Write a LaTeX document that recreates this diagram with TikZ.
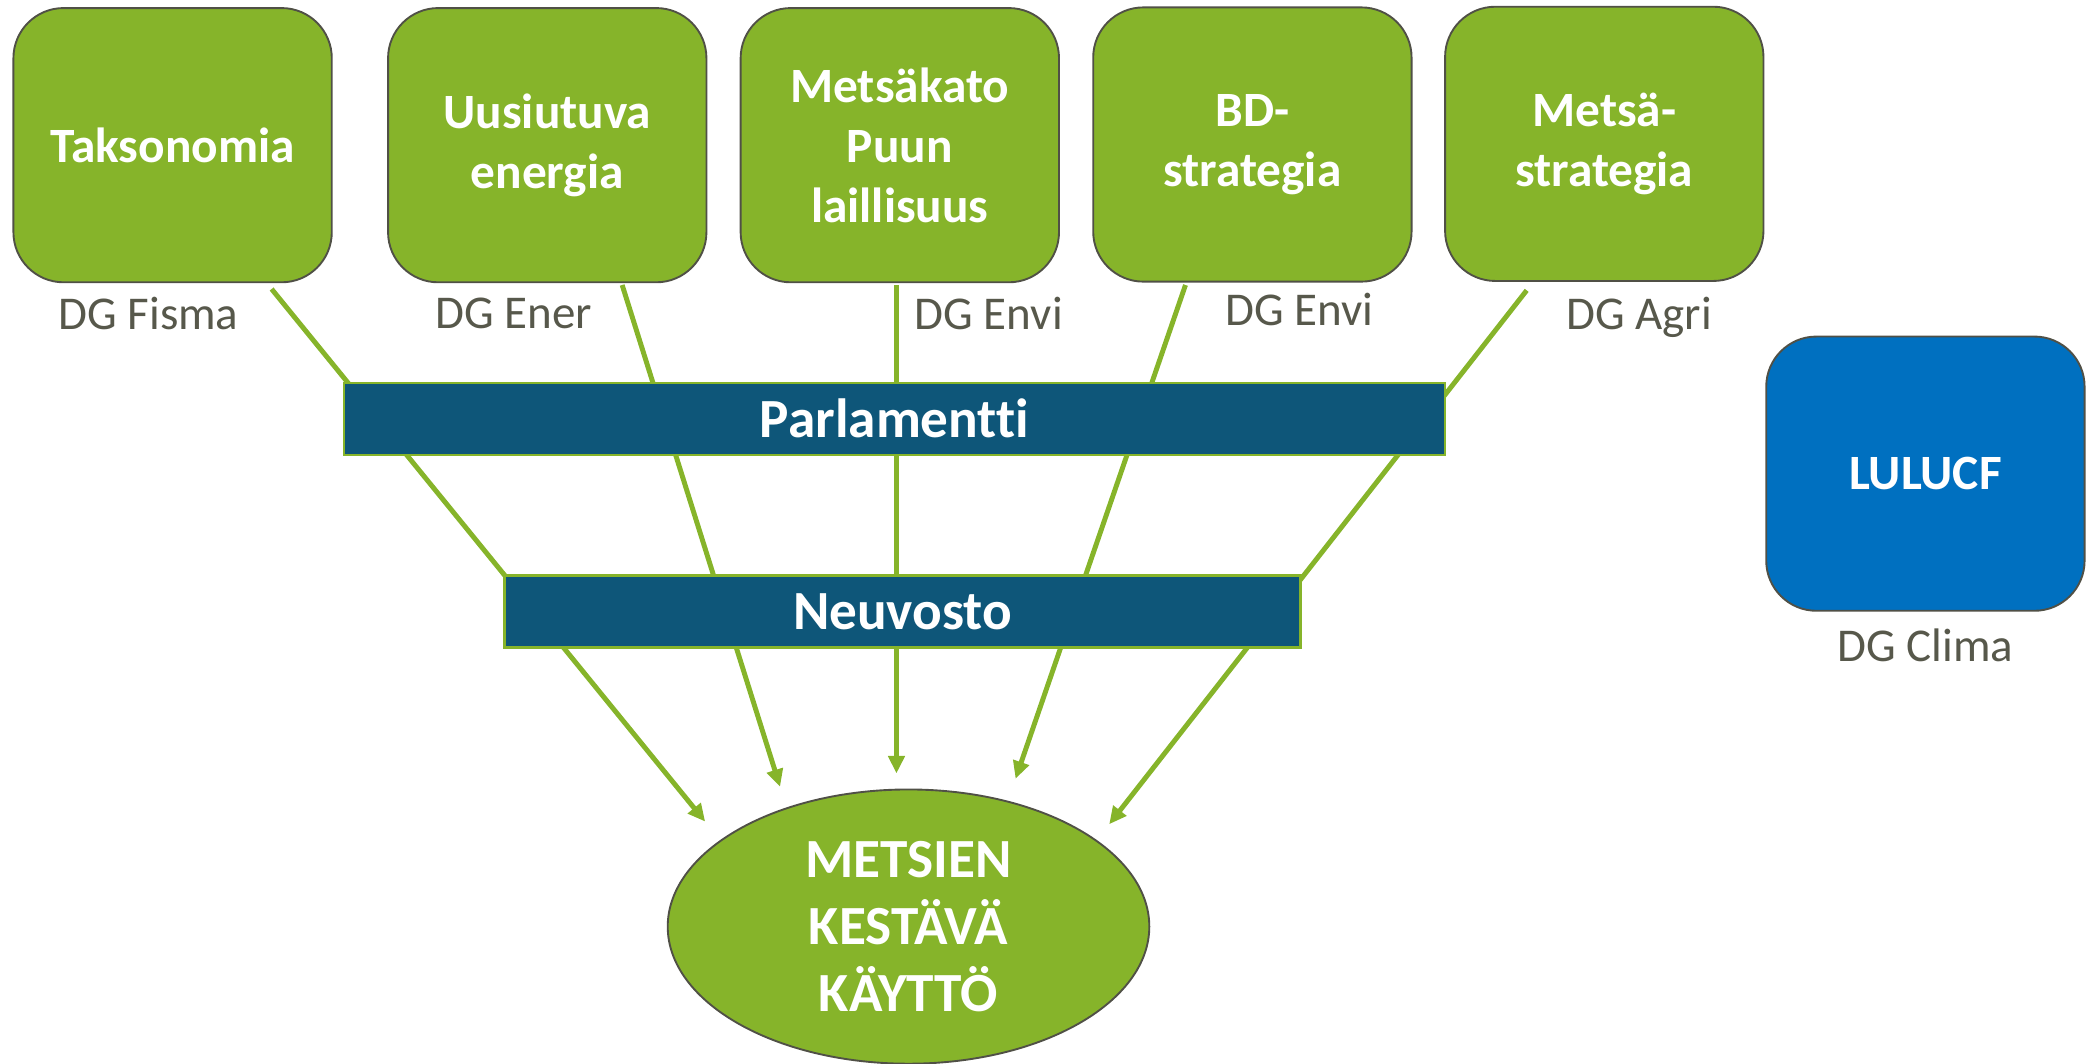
\documentclass[tikz,border=0pt]{standalone}
\usepackage{fontspec}
\setmainfont[Ligatures=NoCommon]{Carlito}
\usepackage{tikz}
\usetikzlibrary{shapes.geometric,arrows.meta,positioning}
\definecolor{leaf}{HTML}{86B42A}
\definecolor{sea}{HTML}{0E5679}
\definecolor{sky}{HTML}{0070C0}
\definecolor{ash}{HTML}{57584B}
\definecolor{rim}{HTML}{505046}
\tikzstyle{topic} = [rectangle, rounded corners=0.75cm, draw=rim, line width=0.8pt, fill=leaf, text=white, font=\fontsize{21}{25.5}\selectfont\bfseries, align=center, minimum width=4.76cm, minimum height=4.1cm, inner sep=0pt]
\tikzstyle{climate} = [topic, fill=sky]
\tikzstyle{organ} = [rectangle, draw=leaf, line width=1pt, fill=sea, text=white, font=\fontsize{23.5}{28}\selectfont\bfseries, minimum height=1.08cm, inner sep=0pt]
\tikzstyle{goal} = [ellipse, draw=rim, line width=0.8pt, fill=leaf, text=white, font=\fontsize{23.5}{28.5}\selectfont\bfseries, align=center, minimum width=7.2cm, minimum height=4.1cm, inner sep=0pt]
\tikzstyle{dg} = [font=\fontsize{20}{24}\selectfont, text=ash, inner sep=0pt]
\tikzstyle{feed} = [draw=leaf, line width=2.1pt, -{Triangle[length=0.26cm,width=0.24cm]}]

\begin{document}
\begin{tikzpicture}[x=0.02cm,y=-0.02cm]
  \useasboundingbox (0,0) rectangle (1568,795);

  \node[topic] (tax) at (129,108.5) {Taksonomia};
  \node[topic] (ren) at (409,108.5) {Uusiutuva\\energia};
  \node[topic] (defo) at (672.5,108.5) {Metsäkato\\Puun\\laillisuus};
  \node[topic] (bio) at (936,108) {BD-\\strategia};
  \node[topic] (fstr) at (1199,107.5) {Metsä-\\strategia};
  \node[climate] (lulucf) at (1439,354) {LULUCF};

  \node[dg] (dg_tax) at (111,234) {DG Fisma};
  \node[dg] (dg_ren) at (384,234) {DG Ener};
  \node[dg] (dg_defo) at (739,234) {DG Envi};
  \node[dg] (dg_bio) at (971,231) {DG Envi};
  \node[dg] (dg_fstr) at (1225,237) {DG Agri};
  \node[dg] (dg_lulucf) at (1439,482) {DG Clima};

  \coordinate (s_tax) at (203,216);
  \coordinate (s_ren) at (465,213);
  \coordinate (s_defo) at (670,213);
  \coordinate (s_bio) at (886,213);
  \coordinate (s_fstr) at (1141,217);
  \coordinate (t_tax) at (527,614);
  \coordinate (t_ren) at (583,588);
  \coordinate (t_defo) at (670,578);
  \coordinate (t_bio) at (759,582);
  \coordinate (t_fstr) at (829,616);

  \path[feed] (s_tax) -- (t_tax);
  \path[feed] (s_ren) -- (t_ren);
  \path[feed] (s_defo) -- (t_defo);
  \path[feed] (s_bio) -- (t_bio);
  \path[feed] (s_fstr) -- (t_fstr);

  \node[organ, minimum width=16.46cm] (parl) at (668.5,313) {Parlamentti};
  \node[organ, minimum width=11.9cm] (neuv) at (674.5,457) {Neuvosto};
  \node[goal] (use) at (679,692.5) {METSIEN\\KESTÄVÄ\\KÄYTTÖ};
\end{tikzpicture}
\end{document}
